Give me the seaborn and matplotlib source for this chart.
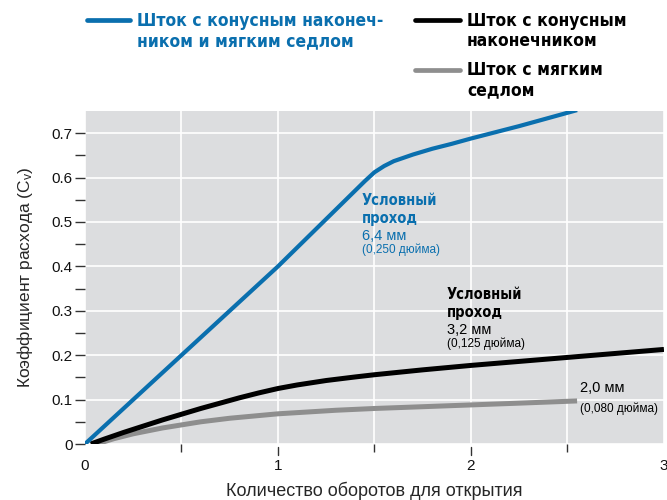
import numpy as np
import pandas as pd
import matplotlib
matplotlib.use('Agg')
import matplotlib.pyplot as plt
import seaborn as sns
from matplotlib.ticker import MultipleLocator, FixedLocator, FuncFormatter

# --- данные ---
turns_blue = [0.0, 0.5, 1.0, 1.45, 1.5, 1.55, 1.6, 1.7, 1.8, 1.9, 2.0, 2.25, 2.55]
cv_blue = [0.0, 0.2, 0.4, 0.592, 0.612, 0.626, 0.637, 0.652, 0.665, 0.676, 0.688, 0.716, 0.752]

turns_black = [0.03, 0.1, 0.2, 0.3, 0.4, 0.5, 0.6, 0.7, 0.8, 0.9, 1.0, 1.1, 1.25,
               1.4, 1.5, 1.75, 2.0, 2.25, 2.5, 2.75, 3.0]
cv_black = [0.0, 0.011, 0.026, 0.040, 0.054, 0.067, 0.080, 0.092, 0.104, 0.115, 0.125,
            0.133, 0.143, 0.151, 0.156, 0.167, 0.177, 0.186, 0.195, 0.204, 0.213]

turns_gray = [0.06, 0.15, 0.25, 0.4, 0.5, 0.6, 0.75, 0.9, 1.0, 1.15, 1.3, 1.5,
              1.75, 2.0, 2.25, 2.55]
cv_gray = [0.0, 0.012, 0.023, 0.036, 0.043, 0.050, 0.058, 0.064, 0.068, 0.072, 0.076,
           0.080, 0.084, 0.088, 0.092, 0.097]

legend_labels = ['Шток с конусным наконеч-\nником и мягким седлом',
                 'Шток с конусным\nнаконечником',
                 'Шток с мягким\nседлом']

BLUE = '#0a6fae'
BLACK = '#000000'
GRAY = '#8e8e8e'
BG = '#dcdddf'

sns.set_style('darkgrid', {'axes.facecolor': BG, 'grid.color': 'white'})
plt.rcParams['font.family'] = ['Liberation Sans', 'DejaVu Sans']

fig = plt.figure(figsize=(6.67, 5), dpi=100)
ax = fig.add_axes([0.1274, 0.112, 0.868, 0.666])

df_blue = pd.DataFrame({'x': turns_blue, 'y': cv_blue})
df_black = pd.DataFrame({'x': turns_black, 'y': cv_black})
df_gray = pd.DataFrame({'x': turns_gray, 'y': cv_gray})

sns.lineplot(data=df_gray, x='x', y='y', ax=ax, color=GRAY, lw=3.6,
             solid_capstyle='butt')
sns.lineplot(data=df_black, x='x', y='y', ax=ax, color=BLACK, lw=3.6,
             solid_capstyle='butt')
sns.lineplot(data=df_blue, x='x', y='y', ax=ax, color=BLUE, lw=3.0,
             solid_capstyle='butt')

# оси
for s in ax.spines.values():
    s.set_visible(False)
ax.xaxis.set_major_locator(FixedLocator([0, 1, 2, 3]))
ax.xaxis.set_minor_locator(FixedLocator([0.5, 1.5, 2.5]))
ax.yaxis.set_major_locator(MultipleLocator(0.1))
ax.yaxis.set_minor_locator(FixedLocator([0.05, 0.15, 0.25, 0.35, 0.45, 0.55, 0.65]))
ax.yaxis.set_major_formatter(FuncFormatter(lambda v, p: '0' if abs(v) < 1e-9 else f'{v:.1f}'))

ax.grid(which='major', axis='y', color='white', lw=1.2)
ax.grid(which='both', axis='x', color='white', lw=1.2)

ax.tick_params(axis='y', which='both', length=7, width=1, color='#333333',
               left=True, pad=2, labelsize=11, labelcolor='#111111')
ax.tick_params(axis='x', which='minor', length=6, width=1, color='#333333',
               bottom=True, pad=0)
ax.tick_params(axis='x', which='major', length=0, pad=11, labelsize=11,
               labelcolor='#111111')
# засечки по x на 1 и 2 тоже есть
for xv in [1, 2]:
    ax.plot([xv, xv], [-0.007, -0.025], color='#333333', lw=1, clip_on=False)
ax.set_xlim(0, 3)
ax.set_ylim(0, 0.75)

ax.set_xlabel('Количество оборотов для открытия', fontsize=13, labelpad=6)
ax.set_ylabel('Коэффициент расхода ($\\mathregular{C_v}$)', fontsize=12.5, labelpad=12)

# легенда вручную
bold = dict(fontweight='bold', fontstretch='condensed', fontsize=12.5,
            family=['DejaVu Sans'], va='center', ha='left', linespacing=1.2)
fig.add_artist(plt.Line2D([87 / 667, 130 / 667], [1 - 20 / 500, 1 - 20 / 500],
                          color=BLUE, lw=3.4))
fig.text(137 / 667, 1 - 31 / 500, legend_labels[0], color=BLUE, **bold)
fig.add_artist(plt.Line2D([415 / 667, 460 / 667], [1 - 20 / 500, 1 - 20 / 500],
                          color=BLACK, lw=3.4))
fig.text(467 / 667, 1 - 31 / 500, legend_labels[1], color=BLACK, **bold)
fig.add_artist(plt.Line2D([415 / 667, 460 / 667], [1 - 70 / 500, 1 - 70 / 500],
                          color=GRAY, lw=3.4))
fig.text(467 / 667, 1 - 80 / 500, legend_labels[2], color=BLACK, **bold)

# подписи кривых
ann_bold = dict(fontweight='bold', fontsize=10.5, family=['DejaVu Sans'],
                fontstretch='condensed', va='top', ha='left', linespacing=1.3)
ax.text(1.435, 0.566, 'Условный\nпроход', color=BLUE, **ann_bold)
ax.text(1.435, 0.484, '6,4 мм', color=BLUE, fontsize=10.5, va='top', ha='left')
ax.text(1.435, 0.452, '(0,250 дюйма)', color=BLUE, fontsize=8.5, va='top', ha='left')

ax.text(1.876, 0.354, 'Условный\nпроход', color=BLACK, **ann_bold)
ax.text(1.876, 0.272, '3,2 мм', color=BLACK, fontsize=10.5, va='top', ha='left')
ax.text(1.876, 0.240, '(0,125 дюйма)', color=BLACK, fontsize=8.5, va='top', ha='left')

ax.text(2.565, 0.142, '2,0 мм', color=BLACK, fontsize=10.5, va='top', ha='left')
ax.text(2.565, 0.094, '(0,080 дюйма)', color=BLACK, fontsize=8.5, va='top', ha='left')

plt.savefig('out.png', dpi=100)
